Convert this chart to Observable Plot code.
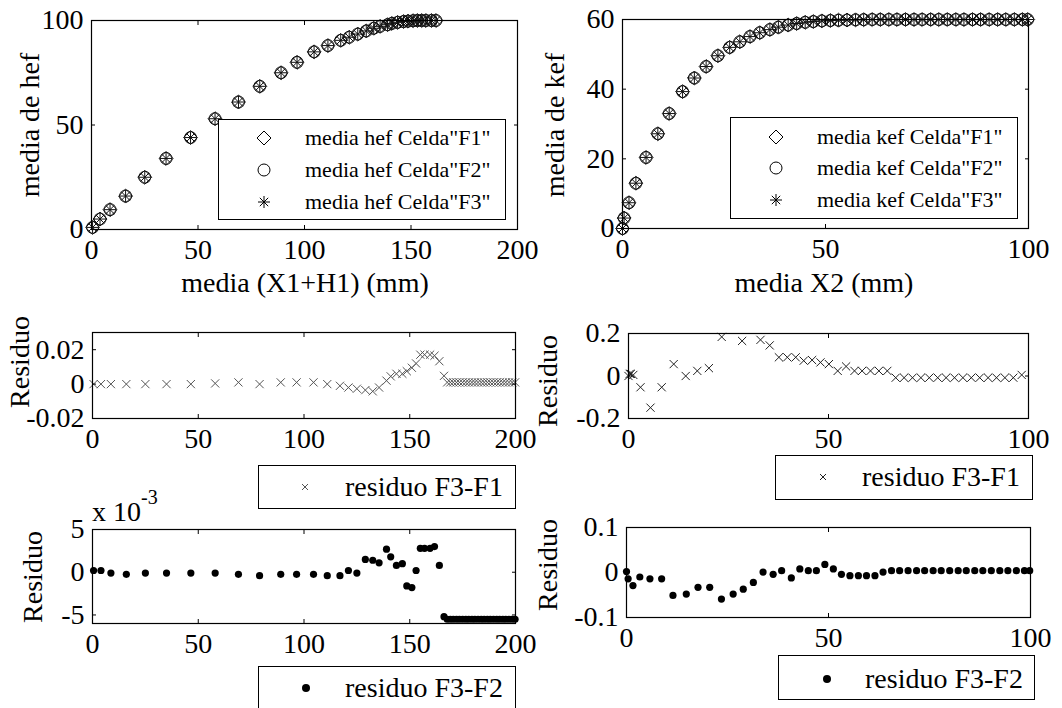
<!DOCTYPE html>
<html>
<head>
<meta charset="utf-8">
<script src="https://cdn.jsdelivr.net/npm/d3@7"></script>
<script src="https://cdn.jsdelivr.net/npm/@observablehq/plot@0.6"></script>
<style>
  body { margin: 0; background: #fff; }
  #root { position: relative; width: 1062px; height: 708px; overflow: hidden; background: #fff;
          font-family: "Liberation Serif", "Times New Roman", serif; color: #000; }
  .panel { position: absolute; }
  .lbl { position: absolute; font-size: 28px; line-height: 1; white-space: nowrap; }
  .ylbl { transform: translate(-50%, -50%) rotate(-90deg); }
  .xlbl { transform: translate(-50%, -50%); }
  .legend { position: absolute; background: #fff; border: 1px solid #000; box-sizing: border-box; }
  .legend span { position: absolute; white-space: nowrap; line-height: 1; transform: translateY(-50%); }
  .legend svg { position: absolute; overflow: visible; }
</style>
</head>
<body>
<div id="root"></div>
<script>
// ---------- DATA ----------
// Top-left: media de hef vs media (X1+H1) (mm)
const hefX  = [0.5, 4, 8.7, 16, 25, 35, 46.5, 58, 69, 79, 89, 96.5, 104.5, 111, 117, 121, 125, 129, 132.5, 135.5, 139, 141, 143.7, 146.5, 148.6, 151, 153, 155, 157, 159.6, 161.7];
const hefF1 = [1, 5, 9.5, 16, 25, 34, 44, 53, 61, 68.5, 75, 80, 85, 88, 90.5, 92, 93.5, 95, 96.3, 97.2, 98, 98.6, 99.1, 99.5, 99.7, 99.9, 100, 100, 100, 100, 100];
const hefF2 = [1, 5, 9.5, 16, 25, 34, 44, 53, 61, 68.5, 75, 80, 85, 88, 90.5, 92, 93.5, 95, 96.3, 97.2, 98, 98.6, 99.1, 99.5, 99.7, 99.9, 100, 100, 100, 100, 100];
const hefF3 = [1, 5, 9.5, 16, 25, 34, 44, 53, 61, 68.5, 75, 80, 85, 88, 90.5, 92, 93.5, 95, 96.3, 97.2, 98, 98.6, 99.1, 99.5, 99.7, 99.9, 100, 100, 100, 100, 100];

// Top-right: media de kef vs media X2 (mm)
const kefX  = [0, 0.4, 1.6, 3.3, 5.8, 8.7, 11.5, 14.8, 17.7, 20.6, 23.5, 26.4, 28.9, 31.4, 33.8, 36.3, 38.4, 40.8, 42.9, 45.0, 47.0, 49.1, 51.2, 53.2, 55.3, 57.4, 59.4, 61.5, 63.5, 65.6, 67.6, 69.7, 71.8, 73.8, 75.9, 77.9, 80.0, 82.1, 84.1, 86.2, 88.2, 90.3, 92.4, 94.4, 96.5, 98.5, 99.8];
const kefF1 = [0, 3, 7.4, 13, 20.4, 27.2, 33, 39.3, 43.2, 46.5, 49.6, 52, 53.6, 55.1, 56.2, 57.1, 57.8, 58.4, 58.85, 59.2, 59.4, 59.6, 59.7, 59.8, 59.85, 59.9, 59.95, 60, 60, 60, 60, 60, 60, 60, 60, 60, 60, 60, 60, 60, 60, 60, 60, 60, 60, 60, 60];
const kefF2 = [0, 3, 7.4, 13, 20.4, 27.2, 33, 39.3, 43.2, 46.5, 49.6, 52, 53.6, 55.1, 56.2, 57.1, 57.8, 58.4, 58.85, 59.2, 59.4, 59.6, 59.7, 59.8, 59.85, 59.9, 59.95, 60, 60, 60, 60, 60, 60, 60, 60, 60, 60, 60, 60, 60, 60, 60, 60, 60, 60, 60, 60];
const kefF3 = [0, 3, 7.4, 13, 20.4, 27.2, 33, 39.3, 43.2, 46.5, 49.6, 52, 53.6, 55.1, 56.2, 57.1, 57.8, 58.4, 58.85, 59.2, 59.4, 59.6, 59.7, 59.8, 59.85, 59.9, 59.95, 60, 60, 60, 60, 60, 60, 60, 60, 60, 60, 60, 60, 60, 60, 60, 60, 60, 60, 60, 60];

// Residuals hef (left column)
const resHefX = [0.5, 4, 8.7, 16, 25, 35, 46.5, 58, 69, 79, 89, 96.5, 104.5, 111, 117, 121, 125, 129, 132.5, 135.5, 139, 141, 143.7, 146.5, 148.6, 151, 153, 155, 157, 159.6, 161.7, 164, 166.2,
  167.7, 169.2, 170.6, 172.1, 173.5, 175.0, 176.5, 177.9, 179.4, 180.8, 182.3, 183.8, 185.2, 186.7, 188.1, 189.6, 191.1, 192.5, 194.0, 195.4, 196.9, 198.4, 199.8];
const resHefF3F1 = [0, 0, 0, 0, 0, 0, 0, 0.0004, 0.001, 0, 0.001, 0.001, 0.001, 0, -0.001, -0.002, -0.0027, -0.0035, -0.0042, -0.002, 0.002, 0.0045, 0.006, 0.006, 0.0075, 0.0095, 0.012, 0.0171, 0.0171, 0.0171, 0.0165, 0.0133, 0.0048,
  0.001, 0.001, 0.001, 0.001, 0.001, 0.001, 0.001, 0.001, 0.001, 0.001, 0.001, 0.001, 0.001, 0.001, 0.001, 0.001, 0.001, 0.001, 0.001, 0.001, 0.001, 0.001, 0.001];
// in units of 10^-3
const resHefF3F2 = [0.2, 0.2, -0.1, -0.25, -0.1, -0.1, -0.1, -0.1, -0.25, -0.4, -0.25, -0.25, -0.25, -0.4, -0.4, 0.2, -0.1, 1.5, 1.4, 1.1, 2.7, 1.8, 0.8, 1.0, -1.6, -1.8, 0.2, 2.8, 2.8, 2.8, 3.0, 0.8, -5.2,
  -5.5, -5.5, -5.5, -5.5, -5.5, -5.5, -5.5, -5.5, -5.5, -5.5, -5.5, -5.5, -5.5, -5.5, -5.5, -5.5, -5.5, -5.5, -5.5, -5.5, -5.5, -5.5, -5.5];

// Residuals kef (right column)
const resKefX13 = [0, 0.3, 0.6, 1.2, 3, 5.5, 8.3, 11.3, 14.3, 17.2, 20.1, 23.3, 28.4, 33, 35.3, 37.6, 39.7, 41.8, 43.8, 45.9, 48, 50.1, 52.3, 54.4, 56.5, 58.4, 60.5, 62.6, 64.7, 66.8, 68.9, 71, 73.1, 75.2, 77.3, 79.4, 81.5, 83.6, 85.7, 87.8, 89.9, 92, 94.1, 96.2, 98.3];
const resKefF3F1 = [0, 0.01, 0.01, 0.005, -0.053, -0.149, -0.053, 0.056, 0, 0.024, 0.037, 0.184, 0.165, 0.17, 0.144, 0.088, 0.088, 0.088, 0.072, 0.075, 0.064, 0.056, 0.024, 0.045, 0.024, 0.024, 0.024, 0.024, 0.024, -0.008,
  -0.008, -0.008, -0.008, -0.008, -0.008, -0.008, -0.008, -0.008, -0.008, -0.008, -0.008, -0.008, -0.008, -0.008, 0.005];
const resKefX23 = [0, 0.4, 1.6, 3.3, 5.8, 8.7, 11.5, 14.8, 17.7, 20.6, 23.5, 26.4, 28.9, 31.4, 33.8, 36.3, 38.4, 40.8, 42.9, 45.0, 47.0, 49.1, 51.2, 53.2, 55.3, 57.4, 59.4, 61.5, 63.5, 65.6, 67.6, 69.7, 71.8, 73.8, 75.9, 77.9, 80.0, 82.1, 84.1, 86.2, 88.2, 90.3, 92.4, 94.4, 96.5, 98.5, 99.8];
const resKefF3F2 = [0.002, -0.014, -0.029, -0.010, -0.014, -0.014, -0.051, -0.048, -0.033, -0.033, -0.059, -0.048, -0.037, -0.022, 0.001, -0.004, 0.004, -0.012, 0.008, 0.004, 0.004, 0.018, 0.008, -0.004, -0.007, -0.007, -0.007, -0.007, 0.001, 0.004,
  0.004, 0.004, 0.004, 0.004, 0.004, 0.004, 0.004, 0.004, 0.004, 0.004, 0.004, 0.004, 0.004, 0.004, 0.004, 0.004, 0.004];

// Ticks
const ticksX200 = [0, 50, 100, 150, 200];
const ticksX100 = [0, 50, 100];
const ticksHef = [0, 50, 100];
const ticksKef = [0, 20, 40, 60];
const ticksResHef13 = [-0.02, 0, 0.02];
const ticksResKef13 = [-0.2, 0, 0.2];
const ticksResHef23 = [-5, 0, 5];
const ticksResKef23 = [-0.1, 0, 0.1];

// Texts
const legendHef = ['media hef Celda"F1"', 'media hef Celda"F2"', 'media hef Celda"F3"'];
const legendKef = ['media kef Celda"F1"', 'media kef Celda"F2"', 'media kef Celda"F3"'];

// ---------- DRAWING ----------
const root = document.getElementById("root");
const fmt = d => String(d);

function panel({left, top, width, height, box, xDomain, yDomain, xTicks, yTicks, marks}) {
  const svg = Plot.plot({
    width, height,
    marginLeft: box.l - left, marginTop: box.t - top,
    marginRight: left + width - box.r, marginBottom: top + height - box.b,
    style: {fontFamily: '"Liberation Serif", "Times New Roman", serif', fontSize: "28px", color: "#000",
            background: "transparent", overflow: "visible"},
    x: {domain: xDomain},
    y: {domain: yDomain},
    marks: [
      ...marks,
      Plot.frame({stroke: "#000", strokeWidth: 1.2}),
      Plot.axisX(xTicks, {anchor: "bottom", tickSize: 0, tickPadding: 10, tickFormat: fmt, label: null}),
      Plot.axisX(xTicks, {anchor: "bottom", tickSize: -4, fill: "none", label: null}),
      Plot.axisX(xTicks, {anchor: "top", tickSize: -4, fill: "none", label: null}),
      Plot.axisY(yTicks, {anchor: "left", tickSize: 0, tickPadding: 8, tickFormat: fmt, label: null}),
      Plot.axisY(yTicks, {anchor: "left", tickSize: -4, fill: "none", label: null}),
      Plot.axisY(yTicks, {anchor: "right", tickSize: -4, fill: "none", label: null})
    ]
  });
  svg.classList.add("panel");
  svg.style.left = left + "px";
  svg.style.top = top + "px";
  root.appendChild(svg);
}

function label(text, cx, cy, rotated) {
  const d = document.createElement("div");
  d.className = "lbl " + (rotated ? "ylbl" : "xlbl");
  d.style.left = cx + "px";
  d.style.top = cy + "px";
  d.textContent = text;
  root.appendChild(d);
}

const SYM = {
  diamond: '<polygon points="0,-7 7,0 0,7 -7,0" fill="none" stroke="#000" stroke-width="1"/>',
  circle: '<circle r="6" fill="none" stroke="#000" stroke-width="1"/>',
  asterisk: '<path d="M-6,0H6M0,-6V6M-4.2,-4.2L4.2,4.2M-4.2,4.2L4.2,-4.2" stroke="#000" stroke-width="1"/>',
  timesGray: '<path d="M-3,-3L3,3M-3,3L3,-3" stroke="#555" stroke-width="1"/>',
  times: '<path d="M-3,-3L3,3M-3,3L3,-3" stroke="#222" stroke-width="1"/>',
  dot: '<circle r="4" fill="#000"/>'
};

function legend(box, rows, fontSize) {
  const d = document.createElement("div");
  d.className = "legend";
  Object.assign(d.style, {left: box.l + "px", top: box.t + "px", width: (box.r - box.l) + "px", height: (box.b - box.t) + "px"});
  for (const r of rows) {
    const s = document.createElementNS("http://www.w3.org/2000/svg", "svg");
    s.setAttribute("width", 1); s.setAttribute("height", 1);
    s.style.left = (r.sx - box.l - 1) + "px";
    s.style.top = (r.y - box.t - 1) + "px";
    s.innerHTML = SYM[r.sym];
    d.appendChild(s);
    const t = document.createElement("span");
    t.textContent = r.text;
    t.style.left = (r.tx - box.l - 1) + "px";
    t.style.top = (r.y - box.t - 1) + "px";
    t.style.fontSize = fontSize + "px";
    d.appendChild(t);
  }
  root.appendChild(d);
}

// Panel A: hef
panel({
  left: 0, top: 0, width: 545, height: 300, box: {l: 91, r: 517, t: 20, b: 229},
  xDomain: [0, 200], yDomain: [0, 100], xTicks: ticksX200, yTicks: ticksHef,
  marks: [
    Plot.dot(hefX, {x: hefX, y: hefF1, symbol: "diamond2", r: 6.3, stroke: "#111", strokeWidth: 1, fill: "none"}),
    Plot.dot(hefX, {x: hefX, y: hefF2, symbol: "circle", r: 6, stroke: "#111", strokeWidth: 1, fill: "none"}),
    Plot.dot(hefX, {x: hefX, y: hefF3, symbol: "plus", r: 4, stroke: "#111", strokeWidth: 1}),
    Plot.dot(hefX, {x: hefX, y: hefF3, symbol: "times", r: 4, stroke: "#111", strokeWidth: 1})
  ]
});
// Panel B: kef
panel({
  left: 545, top: 0, width: 517, height: 300, box: {l: 622, r: 1028, t: 19, b: 228},
  xDomain: [0, 100], yDomain: [0, 60], xTicks: ticksX100, yTicks: ticksKef,
  marks: [
    Plot.dot(kefX, {x: kefX, y: kefF1, symbol: "diamond2", r: 6.3, stroke: "#111", strokeWidth: 1, fill: "none"}),
    Plot.dot(kefX, {x: kefX, y: kefF2, symbol: "circle", r: 6, stroke: "#111", strokeWidth: 1, fill: "none"}),
    Plot.dot(kefX, {x: kefX, y: kefF3, symbol: "plus", r: 4, stroke: "#111", strokeWidth: 1}),
    Plot.dot(kefX, {x: kefX, y: kefF3, symbol: "times", r: 4, stroke: "#111", strokeWidth: 1})
  ]
});
// Panel C: residuo F3-F1 hef
panel({
  left: 0, top: 300, width: 545, height: 160, box: {l: 92, r: 515, t: 332, b: 418},
  xDomain: [0, 200], yDomain: [-0.02, 0.03], xTicks: ticksX200, yTicks: ticksResHef13,
  marks: [
    Plot.dot(resHefX, {x: resHefX, y: resHefF3F1, symbol: "times", r: 3.8, stroke: "#555", strokeWidth: 1})
  ]
});
// Panel D: residuo F3-F1 kef
panel({
  left: 545, top: 300, width: 517, height: 160, box: {l: 628, r: 1028, t: 333, b: 418},
  xDomain: [0, 100], yDomain: [-0.2, 0.2], xTicks: ticksX100, yTicks: ticksResKef13,
  marks: [
    Plot.dot(resKefX13, {x: resKefX13, y: resKefF3F1, symbol: "times", r: 3.8, stroke: "#222", strokeWidth: 1})
  ]
});
// Panel E: residuo F3-F2 hef (x 10^-3)
panel({
  left: 0, top: 480, width: 545, height: 190, box: {l: 92, r: 515, t: 529, b: 623},
  xDomain: [0, 200], yDomain: [-6, 5], xTicks: ticksX200, yTicks: ticksResHef23,
  marks: [
    Plot.dot(resHefX, {x: resHefX, y: resHefF3F2, r: 3.6, fill: "#000"})
  ]
});
// Panel F: residuo F3-F2 kef
panel({
  left: 545, top: 480, width: 517, height: 190, box: {l: 626, r: 1030, t: 527, b: 617},
  xDomain: [0, 100], yDomain: [-0.1, 0.1], xTicks: ticksX100, yTicks: ticksResKef23,
  marks: [
    Plot.dot(resKefX23, {x: resKefX23, y: resKefF3F2, r: 3.6, fill: "#000"})
  ]
});

// Axis titles
label("media de hef", 30, 125, true);
label("media (X1+H1) (mm)", 305, 283, false);
label("media de kef", 555, 125, true);
label("media X2 (mm)", 824, 283, false);
label("Residuo", 20, 362, true);
label("Residuo", 548, 381, true);
label("Residuo", 33, 577, true);
label("Residuo", 548, 565, true);

// exponent label
const ex = document.createElement("div");
ex.className = "lbl";
ex.style.left = "92px"; ex.style.top = "498px";
ex.innerHTML = 'x 10<span style="font-size:20px;position:relative;top:-17px;">-3</span>';
root.appendChild(ex);

// Legends
legend({l: 218, t: 119, r: 506, b: 220}, [
  {sym: "diamond", sx: 264, y: 138, tx: 305, text: legendHef[0]},
  {sym: "circle", sx: 264, y: 170, tx: 305, text: legendHef[1]},
  {sym: "asterisk", sx: 264, y: 202, tx: 305, text: legendHef[2]}
], 22);
legend({l: 730, t: 117, r: 1018, b: 219}, [
  {sym: "diamond", sx: 776, y: 137, tx: 817, text: legendKef[0]},
  {sym: "circle", sx: 776, y: 168, tx: 817, text: legendKef[1]},
  {sym: "asterisk", sx: 776, y: 200, tx: 817, text: legendKef[2]}
], 22);
legend({l: 258, t: 465, r: 516, b: 509}, [
  {sym: "timesGray", sx: 305, y: 487, tx: 345, text: "residuo F3-F1"}
], 28);
legend({l: 775, t: 455, r: 1033, b: 500}, [
  {sym: "times", sx: 823, y: 477, tx: 862, text: "residuo F3-F1"}
], 28);
legend({l: 258, t: 666, r: 516, b: 716}, [
  {sym: "dot", sx: 306, y: 688, tx: 345, text: "residuo F3-F2"}
], 28);
legend({l: 778, t: 655, r: 1035, b: 700}, [
  {sym: "dot", sx: 827, y: 679, tx: 865, text: "residuo F3-F2"}
], 28);
</script>
</body>
</html>
